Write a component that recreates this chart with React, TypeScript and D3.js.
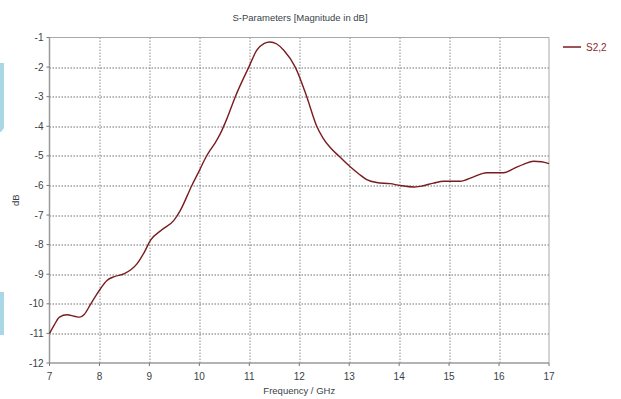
import React from "react"
import * as d3 from "d3"

const FREQ = [
  7.0, 7.1, 7.2, 7.35, 7.5, 7.6, 7.7, 7.82, 7.92, 8.02, 8.15, 8.3, 8.5, 8.75,
  8.9, 9.02, 9.25, 9.49, 9.62, 9.85, 10.0, 10.12, 10.22, 10.32, 10.42, 10.55,
  10.72, 10.99, 11.15, 11.3, 11.41, 11.55, 11.69, 11.92, 12.15, 12.35, 12.47,
  12.62, 12.79, 13.02, 13.2, 13.35, 13.55, 13.82, 14.02, 14.29, 14.42, 14.69,
  14.89, 15.22, 15.49, 15.75, 16.09, 16.29, 16.5, 16.69, 16.85, 17.0,
]
const S22 = [
  -11.0, -10.7, -10.45, -10.37, -10.42, -10.45, -10.35, -10.02, -9.75, -9.49,
  -9.21, -9.08, -8.98, -8.65, -8.25, -7.86, -7.5, -7.18, -6.84, -6.0, -5.5,
  -5.08, -4.8, -4.55, -4.25, -3.75, -3.0, -2.0, -1.43, -1.2, -1.15, -1.22,
  -1.43, -2.0, -3.0, -4.0, -4.38, -4.72, -5.0, -5.37, -5.62, -5.8, -5.9, -5.94,
  -6.0, -6.05, -6.03, -5.92, -5.86, -5.86, -5.71, -5.57, -5.57, -5.43, -5.28,
  -5.18, -5.2, -5.26,
]
const X_TICKS = [7, 8, 9, 10, 11, 12, 13, 14, 15, 16, 17]
const Y_TICKS = [-1, -2, -3, -4, -5, -6, -7, -8, -9, -10, -11, -12]

const W = 621
const H = 399
const FONT = "Liberation Sans, Arial, sans-serif"
const TEXT = "#3a3f48"
const CURVE = "#7a1c1f"

export default function App() {
  const margin = { left: 49.5, right: 72, top: 37.5, bottom: 36 }
  const innerW = W - margin.left - margin.right
  const innerH = H - margin.top - margin.bottom

  const x = d3.scaleLinear().domain([7, 17]).range([0, innerW])
  const y = d3.scaleLinear().domain([-12, -1]).range([innerH, 0])

  const pts: [number, number][] = FREQ.map((f, i) => [f, S22[i]])
  const line = d3
    .line<[number, number]>()
    .x(d => x(d[0]))
    .y(d => y(d[1]))
    .curve(d3.curveMonotoneX)

  return (
    <div style={{ position: "fixed", left: 0, top: 0 }}>
      <svg width={W} height={H} style={{ display: "block", background: "#fff" }}>
        {/* stray blue tabs at the left edge */}
        <path d="M0,63 L4,63 L4,128 L1,132 L0,132 Z" fill="#a9d7e6" />
        <path d="M0,292 L4,292 L4,335 L0,335 Z" fill="#a9d7e6" />

        <text
          x={300}
          y={21}
          fontSize={9.5}
          fontFamily={FONT}
          fill={TEXT}
          textAnchor="middle"
        >
          S-Parameters [Magnitude in dB]
        </text>

        <g transform={`translate(${margin.left},${margin.top})`}>
          {/* grid */}
          {X_TICKS.slice(1, -1).map(t => (
            <line
              key={"gx" + t}
              x1={Math.round(x(t)) + 0.5}
              x2={Math.round(x(t)) + 0.5}
              y1={0}
              y2={innerH}
              stroke="#8a8a8a"
              strokeDasharray="1.5,1.5"
            />
          ))}
          {Y_TICKS.slice(1, -1).map(t => (
            <line
              key={"gy" + t}
              x1={0}
              x2={innerW}
              y1={Math.round(y(t)) + 0.5}
              y2={Math.round(y(t)) + 0.5}
              stroke="#6e6e6e"
              strokeDasharray="1.5,1.5"
            />
          ))}

          {/* frame */}
          <line x1={0} x2={innerW} y1={0} y2={0} stroke="#a8a8a8" />
          <line x1={innerW} x2={innerW} y1={0} y2={innerH} stroke="#a8a8a8" />
          <line x1={0} x2={0} y1={0} y2={innerH} stroke="#9a9a9a" strokeWidth={1.5} />
          <line x1={0} x2={innerW} y1={innerH} y2={innerH} stroke="#9a9a9a" strokeWidth={1.5} />

          {/* x axis */}
          {X_TICKS.map(t => (
            <g key={"xt" + t} transform={`translate(${x(t)},${innerH})`}>
              <line y1={0} y2={3} stroke="#777" />
              <text
                y={17}
                fontSize={10}
                fontFamily={FONT}
                fill={TEXT}
                textAnchor="middle"
              >
                {t}
              </text>
            </g>
          ))}
          <text
            x={x(12)}
            y={innerH + 31}
            fontSize={9.5}
            fontFamily={FONT}
            fill={TEXT}
            textAnchor="middle"
          >
            Frequency / GHz
          </text>

          {/* y axis */}
          {Y_TICKS.map(t => (
            <g key={"yt" + t} transform={`translate(0,${y(t)})`}>
              <line x1={-3} x2={0} stroke="#777" />
              <text
                x={-6}
                dy="0.35em"
                fontSize={10}
                fontFamily={FONT}
                fill={TEXT}
                textAnchor="end"
              >
                {t}
              </text>
            </g>
          ))}
          <text
            transform={`translate(${-31},${y(-6.5)}) rotate(-90)`}
            fontSize={9.5}
            fontFamily={FONT}
            fill={TEXT}
            textAnchor="middle"
          >
            dB
          </text>

          <path d={line(pts) ?? ""} fill="none" stroke={CURVE} strokeWidth={1.4} />

          {/* legend */}
          <line
            x1={innerW + 14}
            x2={innerW + 32}
            y1={9.5}
            y2={9.5}
            stroke={CURVE}
            strokeWidth={1.5}
          />
          <text
            x={innerW + 37}
            y={9.5}
            dy="0.35em"
            fontSize={10}
            fontFamily={FONT}
            fill="#8b2a2a"
          >
            S2,2
          </text>
        </g>
      </svg>
    </div>
  )
}
